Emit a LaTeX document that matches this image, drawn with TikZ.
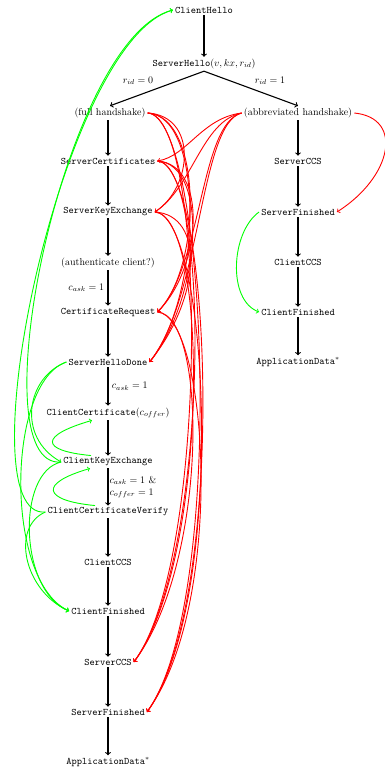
\documentclass[tikz,border=0pt]{standalone}
\begin{document}
\begin{tikzpicture}[x=1pt,y=1pt,
  st/.style={inner sep=2pt, font=\ttfamily},
  lbl/.style={inner sep=2pt},
  flow/.style={->, line width=1.1pt, black},
  srv/.style={->, line width=0.9pt, red},
  cli/.style={->, line width=0.9pt, green}]
\useasboundingbox (0,0) rectangle (385,-768);

% top
\node[st] (CH) at (204,-10) {ClientHello};
\node[st] (SH) at (204,-64) {ServerHello$(v,kx,r_{id})$};

% full handshake column
\node[lbl] (full) at (110,-113) {(full handshake)};
\node[st] (SC)   at (108,-161) {ServerCertificates};
\node[st] (SKE)  at (108,-212) {ServerKeyExchange};
\node[lbl] (auth) at (108,-263) {(authenticate client?)};
\node[st] (CR)   at (108,-312) {CertificateRequest};
\node[st] (SHD)  at (108,-362) {ServerHelloDone};
\node[st] (CC)   at (108,-413) {ClientCertificate$(c_{offer})$};
\node[st] (CKE)  at (108,-462) {ClientKeyExchange};
\node[st] (CCV)  at (108,-512) {ClientCertificateVerify};
\node[st] (CCCS) at (108,-562) {ClientCCS};
\node[st] (CF)   at (108,-611) {ClientFinished};
\node[st] (SCCS) at (108,-662) {ServerCCS};
\node[st] (SF)   at (108,-712) {ServerFinished};
\node[st] (AD)   at (108,-762) {ApplicationData$^*$};

% abbreviated handshake column
\node[lbl] (abbr)  at (298,-113) {(abbreviated handshake)};
\node[st] (rSCCS) at (298,-161) {ServerCCS};
\node[st] (rSF)   at (298,-212) {ServerFinished};
\node[st] (rCCCS) at (298,-262) {ClientCCS};
\node[st] (rCF)   at (298,-312) {ClientFinished};
\node[st] (rAD)   at (298,-362) {ApplicationData$^*$};

% regular transitions
\draw[flow] (CH) -- (SH);
\draw[flow] (SH.south) -- (full.north) node[midway, above left] {$r_{id}=0$};
\draw[flow] (SH.south) -- (abbr.north) node[midway, above right] {$r_{id}=1$};
\draw[flow] (full.south -| SC.north) -- (SC);
\draw[flow] (SC) -- (SKE);
\draw[flow] (SKE) -- (auth);
\draw[flow] (auth) -- (CR) node[midway, left] {$c_{ask}=1$};
\draw[flow] (CR) -- (SHD);
\draw[flow] (SHD) -- (CC) node[midway, right] {$c_{ask}=1$};
\draw[flow] (CC) -- (CKE);
\draw[flow] (CKE) -- (CCV) node[midway, right, align=left, inner sep=1pt] {$c_{ask}=1$ \&\\$c_{offer}=1$};
\draw[flow] (CCV) -- (CCCS);
\draw[flow] (CCCS) -- (CF);
\draw[flow] (CF) -- (SCCS);
\draw[flow] (SCCS) -- (SF);
\draw[flow] (SF) -- (AD);
\draw[flow] (abbr) -- (rSCCS);
\draw[flow] (rSCCS) -- (rSF);
\draw[flow] (rSF) -- (rCCCS);
\draw[flow] (rCCCS) -- (rCF);
\draw[flow] (rCF) -- (rAD);

% server-side skipped messages
\draw[srv] (full.east) .. controls +(50,-3) and +(38,25) .. (SKE.east);
\draw[srv] (full.east) .. controls +(55,-3) and +(45,45) .. (CR.east);
\draw[srv] (full.east) .. controls +(58,-3) and +(52,65) .. (SHD.east);
\draw[srv] (full.east) .. controls +(60,-3) and +(75,100) .. (SCCS.east);
\draw[srv] (full.east) .. controls +(60,-3) and +(80,110) .. (SF.east);
\draw[srv] (SC.east) .. controls +(50,-3) and +(45,45) .. (CR.east);
\draw[srv] (SC.east) .. controls +(52,-3) and +(52,65) .. (SHD.east);
\draw[srv] (SC.east) .. controls +(55,-3) and +(75,100) .. (SCCS.east);
\draw[srv] (SC.east) .. controls +(55,-3) and +(80,110) .. (SF.east);
\draw[srv] (SKE.east) .. controls +(50,-3) and +(52,65) .. (SHD.east);
\draw[srv] (SKE.east) .. controls +(55,-3) and +(75,100) .. (SCCS.east);
\draw[srv] (SKE.east) .. controls +(55,-3) and +(80,110) .. (SF.east);
\draw[srv] (CR.east) .. controls +(50,-3) and +(75,100) .. (SCCS.east);
\draw[srv] (CR.east) .. controls +(50,-3) and +(80,110) .. (SF.east);
\draw[srv] (abbr.west) .. controls +(-40,-5) and +(30,5) .. (SC.east);
\draw[srv] (abbr.west) .. controls +(-40,-8) and +(38,25) .. (SKE.east);
\draw[srv] (abbr.west) .. controls +(-42,-10) and +(45,45) .. (CR.east);
\draw[srv] (abbr.west) .. controls +(-42,-10) and +(52,65) .. (SHD.east);
\draw[srv] (abbr.east) .. controls +(50,-5) and +(55,35) .. (rSF.east);

% client-side skipped messages
\draw[cli] (rSF.west) .. controls +(-28,-20) and +(-32,12) .. (rCF.west);
\draw[cli] (SHD.west) .. controls +(-40,-15) and +(-45,25) .. (CKE.west);
\draw[cli] (SHD.west) .. controls +(-60,-20) and +(-65,30) .. (CF.west);
\draw[cli] (CKE.west) .. controls +(-45,-10) and +(-50,20) .. (CF.west);
\draw[cli] (CCV.west) .. controls +(-35,-15) and +(-45,20) .. (CF.west);
\draw[cli] (CKE.west) .. controls +(-85,-8) and +(-110,-28) .. (CH.west);
\draw[cli] (CCV.west) .. controls +(-83,-8) and +(-112,-31) .. (CH.west);
\draw[cli] ([xshift=-17pt]CKE.north) .. controls +(-52,5) and +(-52,-15) .. ([xshift=-16pt]CC.south);
\draw[cli] ([xshift=-13pt]CCV.north) .. controls +(-52,5) and +(-52,-15) .. ([xshift=-18pt]CKE.south);
\end{tikzpicture}
\end{document}
